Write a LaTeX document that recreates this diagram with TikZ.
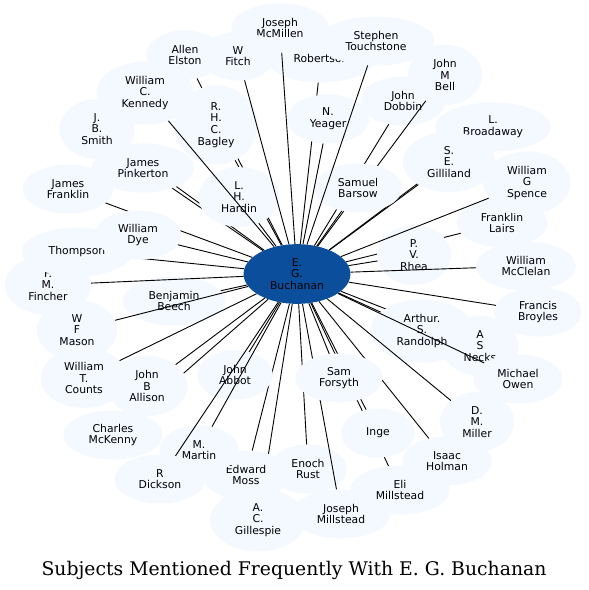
\documentclass[tikz,border=0pt]{standalone}
\usepackage{fontspec}
\setmainfont{DejaVu Sans}
\newfontfamily\ttlfont{DejaVu Serif}
\usetikzlibrary{shapes.geometric}
\definecolor{subfill}{RGB}{244,248,255}
\definecolor{hubfill}{RGB}{11,79,156}
\definecolor{edgeline}{RGB}{0,0,0}
\tikzset{
  sub/.style ={ellipse, fill=subfill, inner xsep=10.8pt, inner ysep=5.4pt,
               minimum width=74pt, minimum height=49pt, align=center,
               font=\fontsize{10.8}{11.7}\selectfont},
  hub/.style ={sub, fill=hubfill},
  ln/.style  ={draw=edgeline, line width=0.9pt},
  ttl/.style ={font=\ttlfont\fontsize{18.8}{22}\selectfont, inner sep=0pt, anchor=base},
}

\begin{document}
\begin{tikzpicture}[x=1pt,y=-1pt]
  \fill[white] (0,0) rectangle (589,590);
  \useasboundingbox (0,0) rectangle (589,590);
  % centre
  \node[hub] (buchanan) at (297,274) {E.\\G.\\Buchanan};
  % outer ring, each edge right after its node
  \node[sub] (elston) at (185,55) {Allen\\Elston};
  \draw[ln] (buchanan) -- (elston);
  \node[sub] (robertson) at (321,58) {Robertson};
  \draw[ln] (buchanan) -- (robertson);
  \node[sub] (smith) at (97,129) {J.\\B.\\Smith};
  \draw[ln] (buchanan) -- (smith);
  \node[sub] (franklin) at (68,189) {James\\Franklin};
  \draw[ln] (buchanan) -- (franklin);
  \node[sub] (beech) at (174,301) {Benjamin\\Beech};
  \draw[ln] (buchanan) -- (beech);
  \node[sub] (fincher) at (48,285) {F.\\M.\\Fincher};
  \draw[ln] (buchanan) -- (fincher);
  \node[sub] (thompson) at (77,252) {Thompson};
  \draw[ln] (buchanan) -- (thompson);
  \node[sub] (dye) at (138,235) {William\\Dye};
  \draw[ln] (buchanan) -- (dye);
  \node[sub] (mason) at (77,330) {W\\F\\Mason};
  \draw[ln] (buchanan) -- (mason);
  \node[sub] (mckenny) at (113,435) {Charles\\McKenny};
  \draw[ln] (buchanan) -- (mckenny);
  \node[sub] (allison) at (147,386) {John\\B\\Allison};
  \draw[ln] (buchanan) -- (allison);
  \node[sub] (counts) at (84,378) {William\\T.\\Counts};
  \draw[ln] (buchanan) -- (counts);
  \node[sub] (gillespie) at (258,520) {A.\\C.\\Gillespie};
  \draw[ln] (buchanan) -- (gillespie);
  \node[sub] (moss) at (246,475) {Edward\\Moss};
  \draw[ln] (buchanan) -- (moss);
  \node[sub] (abbot) at (235,375) {John\\Abbot};
  \draw[ln] (buchanan) -- (abbot);
  \node[sub] (martin) at (199,450) {M.\\Martin};
  \draw[ln] (buchanan) -- (martin);
  \node[sub] (dickson) at (160,479) {R\\Dickson};
  \draw[ln] (buchanan) -- (dickson);
  \node[sub] (rust) at (308,469) {Enoch\\Rust};
  \draw[ln] (buchanan) -- (rust);
  \node[sub] (jmillstead) at (341,514) {Joseph\\Millstead};
  \draw[ln] (buchanan) -- (jmillstead);
  \node[sub] (emillstead) at (400,490) {Eli\\Millstead};
  \draw[ln] (buchanan) -- (emillstead);
  \node[sub] (inge) at (378,433) {Inge};
  \draw[ln] (buchanan) -- (inge);
  \node[sub] (holman) at (447,461) {Isaac\\Holman};
  \draw[ln] (buchanan) -- (holman);
  \node[sub] (forsyth) at (339,378) {Sam\\Forsyth};
  \draw[ln] (buchanan) -- (forsyth);
  \node[sub] (necks) at (480,346) {A\\S\\Necks};
  \draw[ln] (buchanan) -- (necks);
  \node[sub] (randolph) at (422,331) {Arthur.\\S.\\Randolph};
  \draw[ln] (buchanan) -- (randolph);
  \node[sub] (owen) at (518,379) {Michael\\Owen};
  \draw[ln] (buchanan) -- (owen);
  \node[sub] (miller) at (477,422) {D.\\M.\\Miller};
  \draw[ln] (buchanan) -- (miller);
  \node[sub] (broyles) at (538,312) {Francis\\Broyles};
  \draw[ln] (buchanan) -- (broyles);
  \node[sub] (lairs) at (502,223) {Franklin\\Lairs};
  \draw[ln] (buchanan) -- (lairs);
  \node[sub] (rhea) at (414,255) {P.\\V.\\Rhea};
  \draw[ln] (buchanan) -- (rhea);
  \node[sub] (mcclelan) at (526,266) {William\\McClelan};
  \draw[ln] (buchanan) -- (mcclelan);
  \node[sub] (spence) at (527,183) {William\\G\\Spence};
  \draw[ln] (buchanan) -- (spence);
  \node[sub] (broadaway) at (493,127) {L.\\Broadaway};
  \draw[ln] (buchanan) -- (broadaway);
  \node[sub] (gilliland) at (449,162) {S.\\E.\\Gilliland};
  \draw[ln] (buchanan) -- (gilliland);
  \node[sub] (dobbin) at (403,101) {John\\Dobbin};
  \draw[ln] (buchanan) -- (dobbin);
  \node[sub] (bell) at (445,75) {John\\M\\Bell};
  \draw[ln] (buchanan) -- (bell);
  \node[sub] (barsow) at (358,188) {Samuel\\Barsow};
  \draw[ln] (buchanan) -- (barsow);
  \node[sub] (yeager) at (328,119) {N.\\Yeager};
  \draw[ln] (buchanan) -- (yeager);
  \node[sub] (touchstone) at (376,41) {Stephen\\Touchstone};
  \draw[ln] (buchanan) -- (touchstone);
  \node[sub] (mcmillen) at (280,28) {Joseph\\McMillen};
  \draw[ln] (buchanan) -- (mcmillen);
  \node[sub] (pinkerton) at (143,168) {James\\Pinkerton};
  \draw[ln] (buchanan) -- (pinkerton);
  \node[sub] (bagley) at (216,125) {R.\\H.\\C.\\Bagley};
  \draw[ln] (buchanan) -- (bagley);
  \node[sub] (hardin) at (239,197) {L.\\H.\\Hardin};
  \draw[ln] (buchanan) -- (hardin);
  \node[sub] (kennedy) at (145,93) {William\\C.\\Kennedy};
  \draw[ln] (buchanan) -- (kennedy);
  \node[sub] (fitch) at (238,56) {W\\Fitch};
  \draw[ln] (buchanan) -- (fitch);
  % caption
  \node[ttl] (title) at (294,575) {Subjects Mentioned Frequently With E. G. Buchanan};
\end{tikzpicture}
\end{document}
